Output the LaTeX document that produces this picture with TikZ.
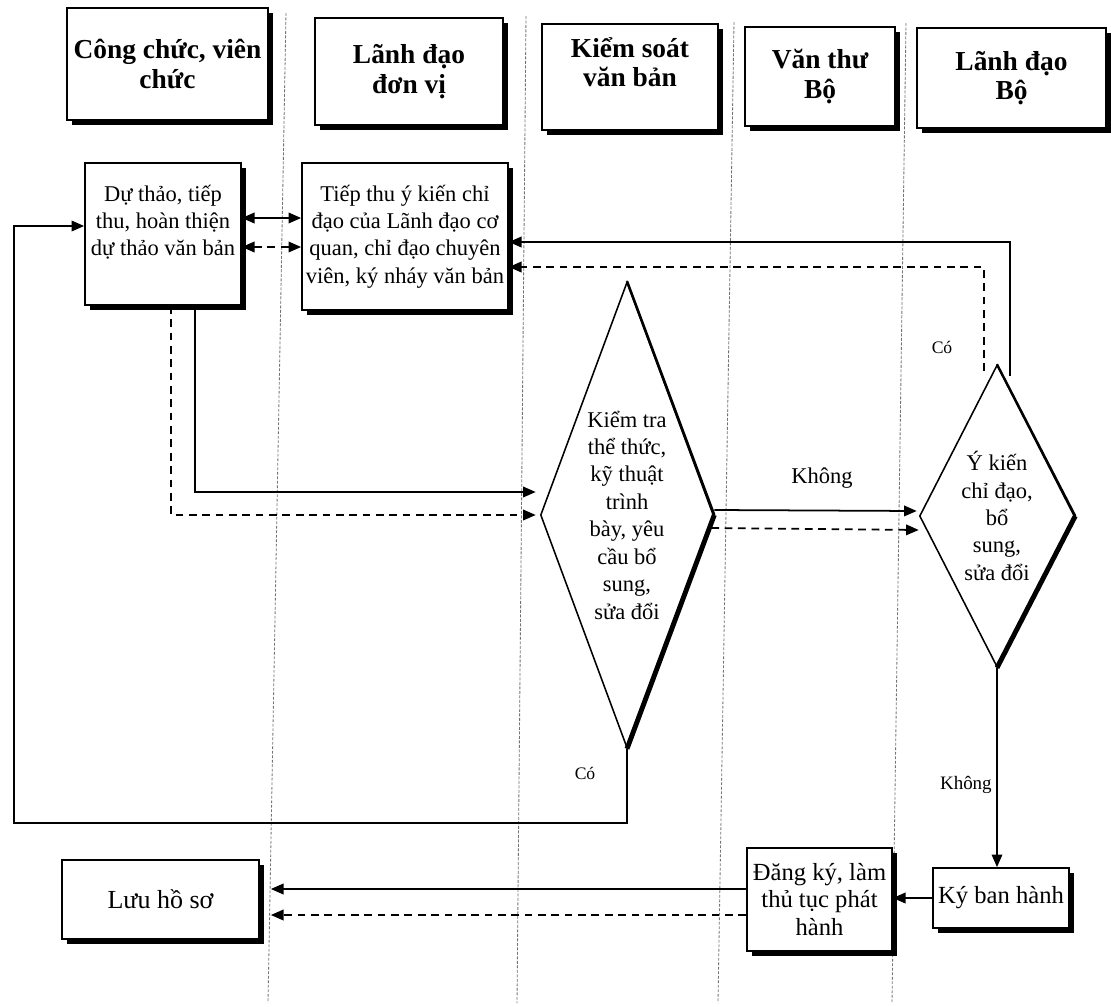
\documentclass[tikz,border=0pt]{standalone}
\usepackage{fontspec}
\setmainfont{Liberation Serif}
\usetikzlibrary{arrows.meta,shapes.geometric,shadows,calc}
\newcommand\pxu{0.025cm}
\tikzset{
 wh/.style 2 args={minimum width=#1*\pxu, minimum height=#2*\pxu},
 box/.style={draw, fill=white, line width=1.2pt, inner sep=0pt, align=center,
   drop shadow={shadow xshift=3.6pt, shadow yshift=-3.8pt, opacity=1, fill=black}},
 hdr/.style={box, font=\fontsize{19.5}{21}\selectfont\bfseries},
 body/.style={font=\fontsize{16}{19.5}\selectfont},
 dia/.style={diamond, draw, line width=1.1pt, inner sep=0pt, align=center, body},
 lane/.style={line width=0.6pt, black!55, dash pattern=on 2pt off 1.2pt},
 con/.style={line width=1.25pt},
 dsh/.style={con, dash pattern=on 5.5pt off 4pt},
 tip/.style={-{Triangle[length=9pt,width=7.5pt]}},
 tips/.style={{Triangle[length=9pt,width=7.5pt]}-{Triangle[length=9pt,width=7.5pt]}},
 lbl/.style={inner sep=0pt},
}
\begin{document}
\begin{tikzpicture}[x=0.025cm,y=-0.025cm]
\useasboundingbox (0,0) rectangle (1111,1006);

% lanes
\draw[lane] (286,13) -- (268,1003);
\draw[lane] (526,16) -- (517,1003);
\draw[lane] (734,22) -- (718,1003);
\draw[lane] (906,23) -- (892,1003);

% headers
\node[hdr, wh={201}{112}] (h1) at (167.5,64) {Công chức, viên\\chức};
\node[hdr, wh={188}{107}] (h2) at (409,71.5) {Lãnh đạo\\đơn vị};
\node[hdr, wh={176}{106}] (h3) at (630,77) {Kiểm soát\\văn bản\\\mbox{}};
\node[hdr, wh={150}{99}] (h4) at (820,76.5) {Văn thư\\Bộ};
\node[hdr, wh={189}{100}] (h5) at (1011.5,78) {Lãnh đạo\\Bộ};

% process nodes
\node[box, body, wh={156}{142}] (n1) at (163,234) {Dự thảo, tiếp\\thu, hoàn thiện\\dự thảo văn bản\\\mbox{}};
\node[box, body, wh={206}{147}] (n2) at (405,236.5) {Tiếp thu ý kiến chỉ\\đạo của Lãnh đạo cơ\\quan, chỉ đạo chuyên\\viên, ký nháy văn bản};
\node[dia, wh={173}{466}, aspect=0.37] (d1) at (627,515) {Kiểm tra\\thể thức,\\kỹ thuật\\trình\\bày, yêu\\cầu bổ\\sung,\\sửa đổi};
\node[dia, wh={155}{302}, aspect=0.51] (d2) at (997,516) {Ý kiến\\chỉ đạo,\\bổ\\sung,\\sửa đổi};
\node[box, wh={197}{79}, font=\fontsize{18.5}{22}\selectfont] (n3) at (160.5,899.5) {Lưu hồ sơ};
\node[box, wh={145}{103}, font=\fontsize{17.5}{19.5}\selectfont] (n4) at (819.5,899.5) {Đăng ký, làm\\thủ tục phát\\hành};
\node[box, wh={136}{60}, font=\fontsize{17.5}{20}\selectfont] (n5) at (1001,898) {Ký ban hành};

% diamond heavy edges
\draw[line width=1.8pt] (d1.north) -- (d1.east);
\draw[line width=3.5pt] (d1.east) -- (d1.south);
\draw[line width=1.6pt] (d2.north) -- (d2.east);
\draw[line width=3.5pt] (d2.east) -- (d2.south);

% helper coordinates
\coordinate (ya) at (0,218);
\coordinate (yb) at (0,247);
\coordinate (ys) at (0,242);
\coordinate (yd) at (0,267);
\coordinate (xs) at (195,0);
\coordinate (xd) at (171,0);
\coordinate (c1) at ($(d2.north)+(13,12)$);
\coordinate (c2) at ($(d2.north)+(-13,7)$);
\coordinate (t1) at ($(d1.west)+(-4,-23)$);
\coordinate (t2) at ($(d1.west)+(-4,0)$);
\coordinate (s1) at ($(d1.east)+(0,-5)$);
\coordinate (e1) at ($(d2.west)+(-2,-5)$);
\coordinate (s2) at ($(d1.east)+(-3,13)$);
\coordinate (e2) at ($(d2.west)+(0,14)$);
\coordinate (yl1) at (0,889);
\coordinate (yl2) at (0,915);
\coordinate (g1) at ($(n3.east |- yl1)+(11,0)$);
\coordinate (g2) at ($(n3.east |- yl2)+(11,0)$);
\coordinate (lp) at (14,823);
\coordinate (yr) at (0,226);

% connectors
\draw[con,tips] (n1.east |- ya) -- (n2.west |- ya);
\draw[dsh,tips] (n1.east |- yb) -- (n2.west |- yb);
\draw[con,tip] (c1) |- (n2.east |- ys);
\draw[dsh,tip] (c2) |- (n2.east |- yd);
\draw[con,tip] (n1.south -| xs) |- (t1);
\draw[dsh,tip] (n1.south -| xd) |- (t2);
\draw[con,tip] (s1) -- (e1);
\draw[dsh,tip] (s2) -- (e2);
\draw[con,tip] (d2.south) -- (d2.south |- n5.north);
\draw[con,tip] (n5.west) -- (n4.east |- n5.west);
\draw[con,tip] (n4.west |- yl1) -- (g1);
\draw[dsh,tip] (n4.west |- yl2) -- (g2);
\draw[con,tip] (d1.south) |- (lp) |- (n1.west |- yr);

% labels
\node[lbl, body] (k1) at (822,478) {Không};
\node[lbl, font=\fontsize{13.5}{15}\selectfont, anchor=east] (k2) at (992,785) {Không};
\node[lbl, font=\fontsize{12.5}{14}\selectfont] (co1) at (585,773) {Có};
\node[lbl, font=\fontsize{12.5}{14}\selectfont] (co2) at (942,347) {Có};
\end{tikzpicture}
\end{document}
